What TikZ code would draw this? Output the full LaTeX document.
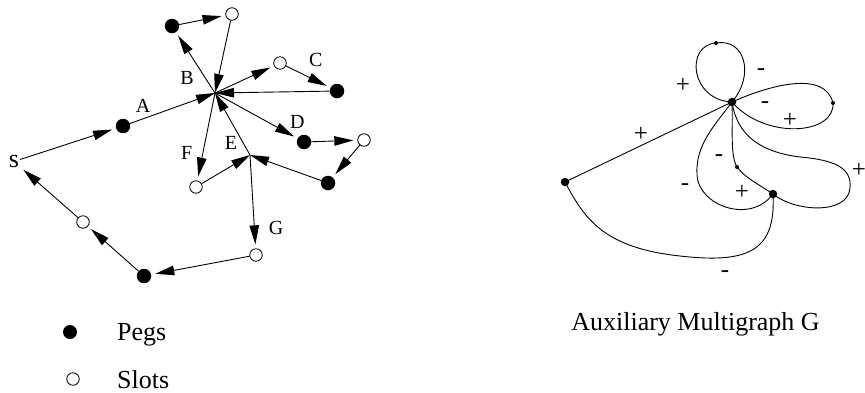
\documentclass[tikz,border=0pt]{standalone}
\usepackage{fontspec}
\setmainfont{Liberation Serif}
\usetikzlibrary{arrows.meta}

\tikzset{
  peg/.style={circle, fill=black, inner sep=0pt, minimum size=14.5pt},
  slot/.style={circle, draw=black, fill=white, line width=0.8pt, inner sep=0pt, minimum size=12.5pt},
  edgelbl/.style={inner sep=0pt, font=\fontsize{20}{22}\selectfont},
  signlbl/.style={inner sep=0pt, font=\fontsize{25}{28}\selectfont},
  bigtext/.style={inner sep=0pt, font=\fontsize{26}{30}\selectfont},
  arr/.style={line width=0.9pt, -{Triangle[length=19pt,width=9.5pt]}, shorten >=4pt},
  arrhub/.style={line width=0.9pt, -{Triangle[length=19pt,width=9.5pt]}},
  bigdot/.style={circle, fill=black, inner sep=0pt, minimum size=8.5pt},
  smalldot/.style={circle, fill=black, inner sep=0pt, minimum size=4pt},
  curve/.style={line width=0.9pt}
}

\begin{document}
\begin{tikzpicture}[x=1pt, y=-1pt]
\useasboundingbox (0,0) rectangle (865,392);

% ---------- peg/slot routing graph ----------
\node[inner sep=1pt, font=\fontsize{26}{28}\selectfont] (s) at (14,161.5) {s};
\node[peg]  (pa) at (123,126) {};
\coordinate (h1) at (215,93);
\node[peg]  (pb) at (172,26) {};
\node[slot] (sb) at (232,14) {};
\node[slot] (sc) at (280,63) {};
\node[peg]  (pc) at (337,91) {};
\node[peg]  (pd) at (304,142) {};
\node[slot] (sd) at (364,140) {};
\node[peg]  (pe) at (328,183) {};
\coordinate (h2) at (250,155);
\node[slot] (sf) at (196,187) {};
\node[slot] (sg) at (256,255) {};
\node[peg]  (pg) at (144,276) {};
\node[slot] (sl) at (83,222) {};

\draw[arr]    (s)  -- (pa);
\draw[arrhub] (pa) -- (h1);
\draw[arr]    (h1) -- (pb);
\draw[arr]    (pb) -- (sb);
\draw[arrhub] (sb) -- (h1);
\draw[arr]    (h1) -- (sc);
\draw[arr]    (sc) -- (pc);
\draw[arrhub] (pc) -- (h1);
\draw[arr]    (h1) -- (pd);
\draw[arr]    (pd) -- (sd);
\draw[arr]    (sd) -- (pe);
\draw[arrhub] (pe) -- (h2);
\draw[arrhub] (h2) -- (h1);
\draw[arr]    (h1) -- (sf);
\draw[arrhub] (sf) -- (h2);
\draw[arr]    (h2) -- (sg);
\draw[arr]    (sg) -- (pg);
\draw[arr]    (pg) -- (sl);
\draw[arr]    (sl) -- (s);

\node[edgelbl] (lA) at (143,105.5) {A};
\node[edgelbl] (lB) at (187,77.7) {B};
\node[edgelbl] (lC) at (315.7,60) {C};
\node[edgelbl] (lD) at (297.3,121.7) {D};
\node[edgelbl] (lE) at (231,143) {E};
\node[edgelbl] (lF) at (186.7,153.3) {F};
\node[edgelbl] (lG) at (276,228.3) {G};

% ---------- legend ----------
\node[peg, minimum size=14pt] (legpeg) at (70,332) {};
\node[bigtext, anchor=base west] (legpegtxt) at (117,340.5) {Pegs};
\node[slot, minimum size=12.5pt] (legslot) at (73,379) {};
\node[bigtext, anchor=base west] (legslottxt) at (117,388) {Slots};

% ---------- auxiliary multigraph ----------
\node[bigdot]   (L)  at (565,182) {};
\node[bigdot]   (C)  at (732,102) {};
\node[bigdot]   (R)  at (773,194) {};
\node[smalldot] (T)  at (716,43) {};
\node[smalldot] (Rt) at (833,103) {};
\node[smalldot] (M)  at (737,167) {};

% straight edge
\draw[curve] (L.center) -- (C.center);
% self loop through T
\draw[curve] (C.center) .. controls (690,100) and (685,45) .. (T.center)
                        .. controls (745,38) and (755,75) .. (C.center);
% self loop through Rt
\draw[curve] (C.center) .. controls (770,85) and (825,70) .. (Rt.center)
                        .. controls (835,135) and (765,140) .. (C.center);
% wide petal from C to R
\draw[curve] (C.center) .. controls (737,135) and (760,152) .. (800,157)
                        .. controls (835,160) and (852,168) .. (850,188)
                        .. controls (848,215) and (795,212) .. (R.center);
% edge from C to R through M
\draw[curve] (C.center) .. controls (733,130) and (730,155) .. (M.center)
                        .. controls (745,178) and (760,185) .. (R.center);
% left petal from C to R
\draw[curve] (C.center) .. controls (715,125) and (695,145) .. (697,175)
                        .. controls (698,205) and (750,225) .. (R.center);
% lower edge from L to R
\draw[curve] (L.center) .. controls (585,220) and (605,248) .. (680,256)
                        .. controls (750,264) and (776,250) .. (R.center);

\node[signlbl] (g1) at (641,134) {+};
\node[signlbl] (g2) at (683,85) {+};
\node[signlbl] (g3) at (761,72) {-};
\node[signlbl] (g4) at (765,105) {-};
\node[signlbl] (g5) at (790,120) {+};
\node[signlbl] (g6) at (859,170) {+};
\node[signlbl] (g7) at (719,158) {-};
\node[signlbl] (g8) at (685,187) {-};
\node[signlbl] (g9) at (742,192) {+};
\node[signlbl] (g10) at (725,274) {-};

\node[bigtext, anchor=base] (cap) at (695.5,330) {Auxiliary Multigraph G};
\end{tikzpicture}
\end{document}
